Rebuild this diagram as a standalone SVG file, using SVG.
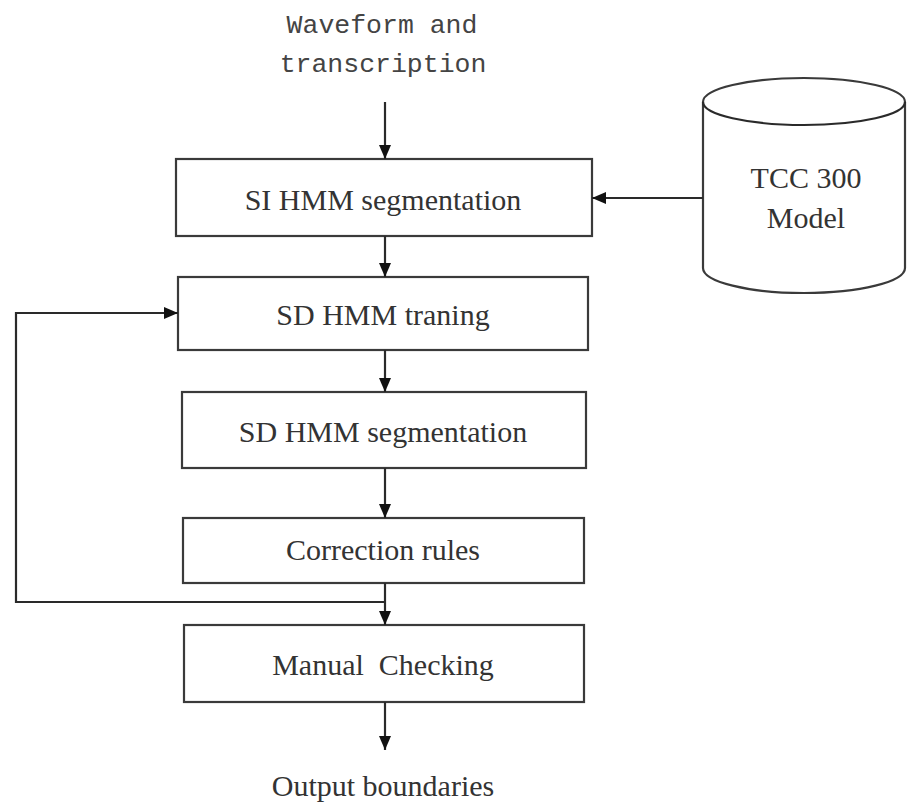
<svg xmlns="http://www.w3.org/2000/svg" width="909" height="805" viewBox="0 0 909 805">
  <style>
    .box { fill: #ffffff; stroke: #3a3a3a; stroke-width: 2.2; }
    .wire { fill: none; stroke: #2a2a2a; stroke-width: 2.2; }
    .lbl { font-family: "Liberation Serif", "Times New Roman", serif; font-size: 30px; fill: #333333; text-anchor: middle; white-space: pre; }
    .mono { font-family: "Liberation Mono", "Courier New", monospace; font-size: 26.5px; fill: #444444; text-anchor: middle; }
  </style>
  <defs>
    <marker id="arrow" viewBox="0 0 14 12" refX="14" refY="6" markerWidth="14" markerHeight="12" markerUnits="userSpaceOnUse" orient="auto">
      <path d="M0,0 L14,6 L0,12 Z" fill="#111111"/>
    </marker>
  </defs>

  <rect width="909" height="805" fill="#ffffff"/>

  <!-- input label -->
  <g id="input">
    <text class="mono" x="382" y="33">Waveform and</text>
    <text class="mono" x="383" y="72">transcription</text>
  </g>

  <!-- model database -->
  <g id="tcc300">
    <path class="box" d="M703,102 L703,268 A101,25 0 0 0 905,268 L905,102 A101,24 0 0 0 703,102 Z"/>
    <path class="wire" d="M703,102 A101,23 0 0 0 905,102" stroke="#3a3a3a"/>
    <text class="lbl" x="806" y="188">TCC 300</text>
    <text class="lbl" x="806" y="228">Model</text>
  </g>

  <g id="si-seg">
    <rect class="box" x="176" y="159" width="416" height="77"/>
    <text class="lbl" x="383" y="210">SI HMM segmentation</text>
  </g>

  <g id="sd-train">
    <rect class="box" x="178" y="277" width="410" height="73"/>
    <text class="lbl" x="383" y="325">SD HMM traning</text>
  </g>

  <g id="sd-seg">
    <rect class="box" x="182" y="392" width="404" height="76"/>
    <text class="lbl" x="383" y="442">SD HMM segmentation</text>
  </g>

  <g id="rules">
    <rect class="box" x="183" y="518" width="401" height="65"/>
    <text class="lbl" x="383" y="560">Correction rules</text>
  </g>

  <g id="manual">
    <rect class="box" x="184" y="625" width="400" height="77"/>
    <text class="lbl" x="383" y="675">Manual  Checking</text>
  </g>

  <g id="output">
    <text class="lbl" x="383" y="796">Output boundaries</text>
  </g>

  <!-- connectors -->
  <g id="connectors">
    <line class="wire" x1="385" y1="102" x2="385" y2="159" marker-end="url(#arrow)"/>
    <line class="wire" x1="703" y1="198" x2="592" y2="198" marker-end="url(#arrow)"/>
    <line class="wire" x1="385" y1="236" x2="385" y2="277" marker-end="url(#arrow)"/>
    <line class="wire" x1="385" y1="350" x2="385" y2="392" marker-end="url(#arrow)"/>
    <line class="wire" x1="385" y1="468" x2="385" y2="518" marker-end="url(#arrow)"/>
    <line class="wire" x1="385" y1="583" x2="385" y2="625" marker-end="url(#arrow)"/>
    <polyline class="wire" points="385,602 16,602 16,313 178,313" marker-end="url(#arrow)"/>
    <line class="wire" x1="385" y1="702" x2="385" y2="750" marker-end="url(#arrow)"/>
  </g>
</svg>
